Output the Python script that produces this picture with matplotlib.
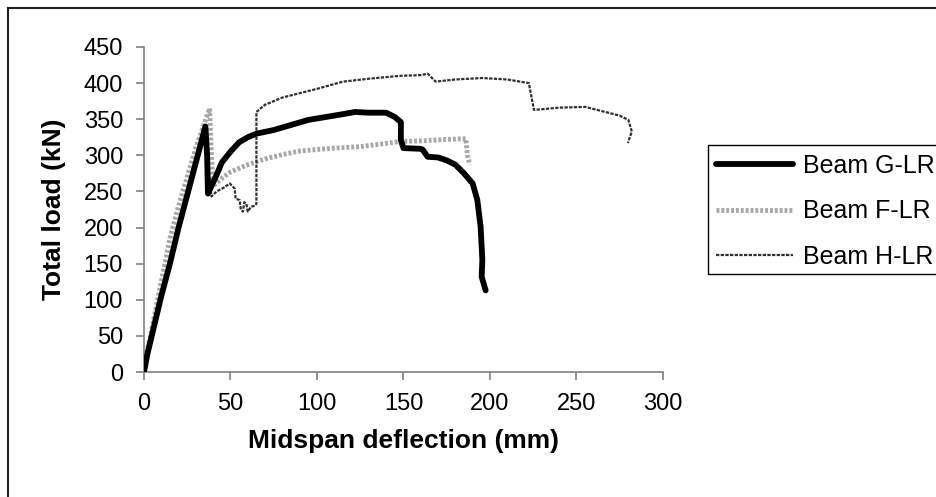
import numpy as np
import matplotlib.pyplot as plt
from matplotlib.lines import Line2D
from matplotlib.patches import Rectangle

plt.rcParams['font.family'] = ['Liberation Sans', 'DejaVu Sans']

# Beam G-LR (thick black)
g_x = [0, 2, 5, 10, 15, 20, 25, 30, 35.5, 36.5, 37, 42, 45, 50, 55, 60, 65, 75, 85, 95,
       105, 115, 122, 130, 140, 145, 148.5, 148.5, 150, 160, 161, 164, 170, 175, 180,
       185, 190, 192.7, 194.6, 195.6, 195.2, 197.5]
g_y = [0, 25, 55, 105, 150, 200, 245, 290, 340, 300, 247, 273, 290, 305, 318, 325, 330,
       335, 342, 349, 353, 357, 360, 359, 359, 353, 346, 321, 310, 309, 308, 298, 297,
       293, 287, 275, 261, 238, 201, 155, 132, 113]

# Beam F-LR (grey dotted)
f_x = [0, 2, 5, 10, 15, 20, 25, 30, 35, 38, 39, 40, 45, 50, 60, 70, 80, 90, 100, 110,
       125, 135, 148, 160, 175, 186, 187, 188.3]
f_y = [0, 30, 65, 125, 185, 230, 270, 310, 345, 365, 300, 258, 268, 277, 287, 295, 301,
       306, 308, 310, 312, 315, 319, 320, 322, 323, 300, 287]

# Beam H-LR (thin dark)
h_x = [0, 2, 5, 10, 15, 20, 25, 30, 35, 37, 39, 42, 46, 49.6, 52.4, 53, 55.3, 56, 57.2,
       58, 59.2, 60, 62, 64, 65, 65, 70, 80, 90, 100, 115, 130, 147.6, 160, 164, 168.6,
       180, 195.6, 210, 222.5, 225.4, 226.3, 240, 255, 266.7, 275, 280, 282, 279.7]
h_y = [0, 20, 50, 100, 150, 195, 240, 285, 330, 290, 243, 250, 255, 261, 254, 240, 238,
       225, 222, 235, 233, 222, 229, 230, 233, 360, 370, 380, 386, 392, 402, 406, 410,
       411, 413, 402, 405, 407, 405, 400, 363, 363, 366, 367, 360, 355, 349, 333, 317]

fig = plt.figure(figsize=(9.36, 4.97), dpi=100)
ax = fig.add_axes([0.1538, 0.2515, 0.5545, 0.654])

ax.plot(g_x, g_y, color='black', lw=4.2, solid_capstyle='round', solid_joinstyle='round',
        label='Beam G-LR', zorder=3)
ax.plot(f_x, f_y, color='#a8a8a8', lw=3.5, linestyle=(0, (0.6, 0.4)),
        label='Beam F-LR', zorder=2)
ax.plot(h_x, h_y, color='#303030', lw=1.6, linestyle=(0, (1.5, 0.6)),
        label='Beam H-LR', zorder=2)

ax.set_xlim(0, 300)
ax.set_ylim(0, 450)
ax.set_xticks(np.arange(0, 301, 50))
ax.set_yticks(np.arange(0, 451, 50))
ax.spines['right'].set_color('none')
ax.spines['top'].set_color('none')
ax.spines['left'].set_color('#808080')
ax.spines['bottom'].set_color('#808080')
ax.spines['left'].set_linewidth(1.2)
ax.spines['bottom'].set_linewidth(1.2)
ax.tick_params(direction='out', length=6, width=1.2, color='#808080',
               labelsize=17, pad=9)
ax.set_xlabel('Midspan deflection (mm)', fontsize=19, fontweight='bold', labelpad=10)
ax.set_ylabel('Total load (kN)', fontsize=19, fontweight='bold', labelpad=13)

# legend without its own frame; the box runs past the right edge like the original
leg = fig.legend(loc='upper left', bbox_to_anchor=(716 / 936, 1 - 154 / 497), fontsize=18,
                 frameon=False, handlelength=3.08, handletextpad=0.4,
                 borderpad=0, labelspacing=0.85, borderaxespad=0)
fig.add_artist(Rectangle((708 / 936, 1 - 274 / 497), 0.4, 129 / 497,
                         transform=fig.transFigure, fill=False, edgecolor='black', lw=1.0))

# outer chart frame (top and left edges visible)
fig.add_artist(Line2D([8 / 936, 1], [1 - 8 / 497, 1 - 8 / 497], color='#202020', lw=1.5))
fig.add_artist(Line2D([8 / 936, 8 / 936], [0, 1 - 8 / 497], color='#202020', lw=1.5))

fig.savefig('out.png', dpi=100)
